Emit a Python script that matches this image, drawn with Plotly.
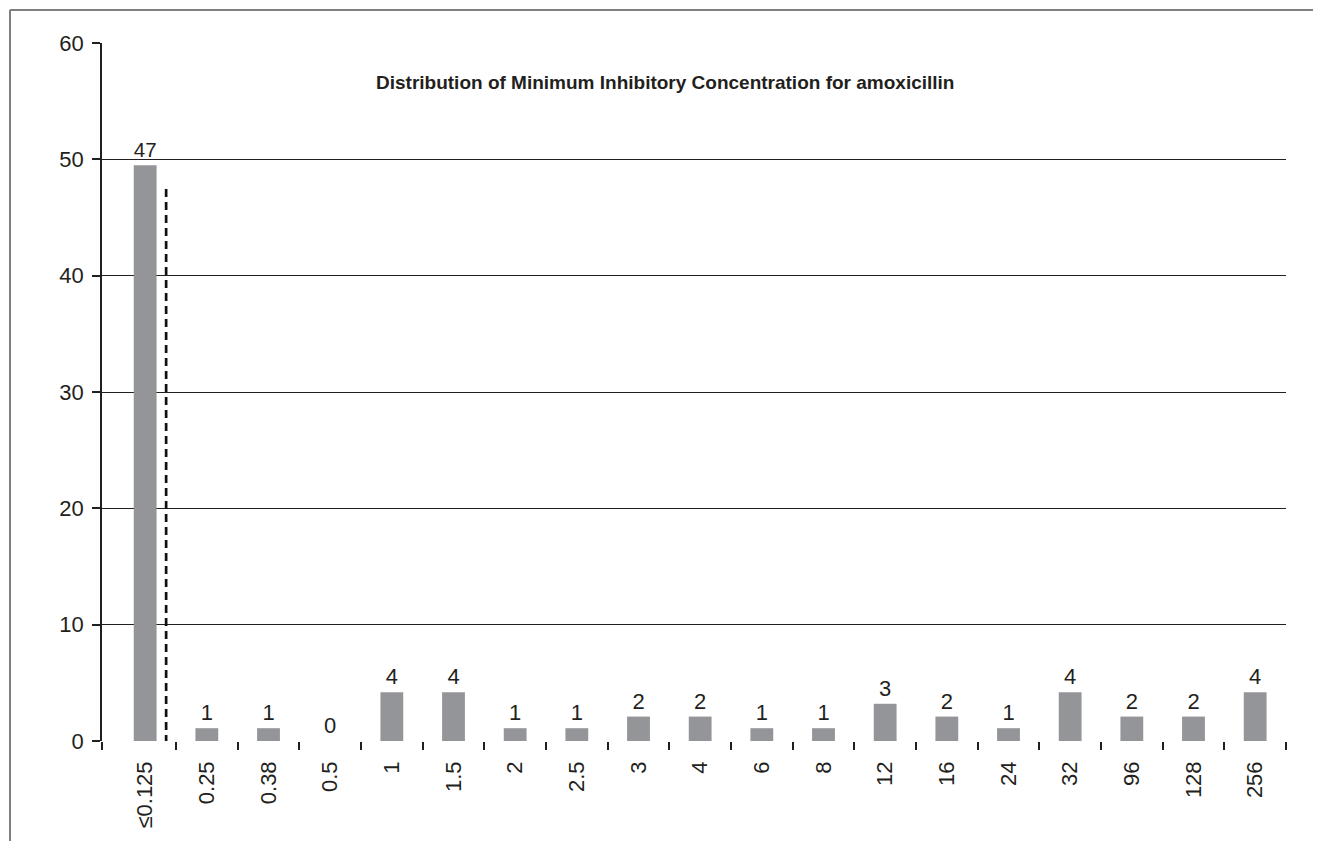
import plotly.graph_objects as go

# ---- data ----
mic_labels = ["≤0.125", "0.25", "0.38", "0.5", "1", "1.5", "2", "2.5", "3", "4",
              "6", "8", "12", "16", "24", "32", "96", "128", "256"]
isolate_counts = [47, 1, 1, 0, 4, 4, 1, 1, 2, 2, 1, 1, 3, 2, 1, 4, 2, 2, 4]
percent_values = [49.5, 1.1, 1.1, 0.0, 4.2, 4.2, 1.1, 1.1, 2.1, 2.1, 1.1, 1.1,
                  3.2, 2.1, 1.1, 4.2, 2.1, 2.1, 4.2]
y_ticks = [0, 10, 20, 30, 40, 50, 60]
breakpoint_x = 0.34          # dashed cut-off line position (category units)
breakpoint_y = [-2.4, 47.8]  # dashed line extent (axis units)

title_text = "Distribution of Minimum Inhibitory Concentration for amoxicillin"

FONT = "Liberation Sans Narrow, Arial Narrow, Liberation Sans, Arial, sans-serif"
INK = "#231f20"

positions = list(range(len(mic_labels)))
boundaries = [-0.7] + [p + 0.5 for p in positions]

fig = go.Figure()
fig.add_trace(go.Bar(
    x=positions, y=percent_values,
    width=0.37,
    marker=dict(color="#939598", line=dict(width=0)),
    text=[str(c) for c in isolate_counts],
    textposition="outside",
    textfont=dict(family=FONT, size=22, color=INK),
    cliponaxis=False,
    hoverinfo="skip",
))

fig.add_shape(type="line", xref="x", yref="y",
              x0=breakpoint_x, x1=breakpoint_x,
              y0=breakpoint_y[0], y1=breakpoint_y[1],
              line=dict(color="#111111", width=2.7, dash="8px,5px"))

# outer frame (top and left edges)
fig.add_shape(type="line", xref="paper", yref="paper",
              x0=-0.0777, x1=1.04, y0=1.0473, y1=1.0473,
              line=dict(color="#7f7f7f", width=2))
fig.add_shape(type="line", xref="paper", yref="paper",
              x0=-0.0777, x1=-0.0777, y0=1.0473, y1=-0.16,
              line=dict(color="#7f7f7f", width=2))

fig.add_annotation(text="<b>" + title_text + "</b>", xref="paper", yref="paper",
                   x=0.4755, y=0.944, xanchor="center", yanchor="middle",
                   showarrow=False,
                   font=dict(family=FONT, size=19, color=INK))

fig.update_layout(
    width=1313, height=833,
    margin=dict(l=94, r=35, t=35, b=100),
    paper_bgcolor="white", plot_bgcolor="white",
    showlegend=False,
    xaxis=dict(
        range=[-0.7, 18.5],
        tickmode="array", tickvals=positions, ticktext=mic_labels,
        ticks="", tickangle=-90,
        tickfont=dict(family=FONT, size=22, color=INK),
        showgrid=False, zeroline=False,
        showline=False,
        automargin=False,
        ticklabelstandoff=15,
        minor=dict(tickmode="array", tickvals=boundaries, ticks="outside",
                   ticklen=8, tickwidth=1.5, tickcolor=INK, showgrid=False),
    ),
    yaxis=dict(
        range=[0, 60],
        tickmode="array", tickvals=y_ticks,
        ticks="outside", ticklen=8, tickwidth=1.5, tickcolor=INK,
        tickfont=dict(family=FONT, size=22, color=INK),
        showgrid=True, gridcolor=INK, gridwidth=1.2,
        zeroline=False,
        showline=True, linecolor=INK, linewidth=1.5,
        automargin=False,
        ticklabelstandoff=4,
    ),
)

fig.write_html("out.html")
